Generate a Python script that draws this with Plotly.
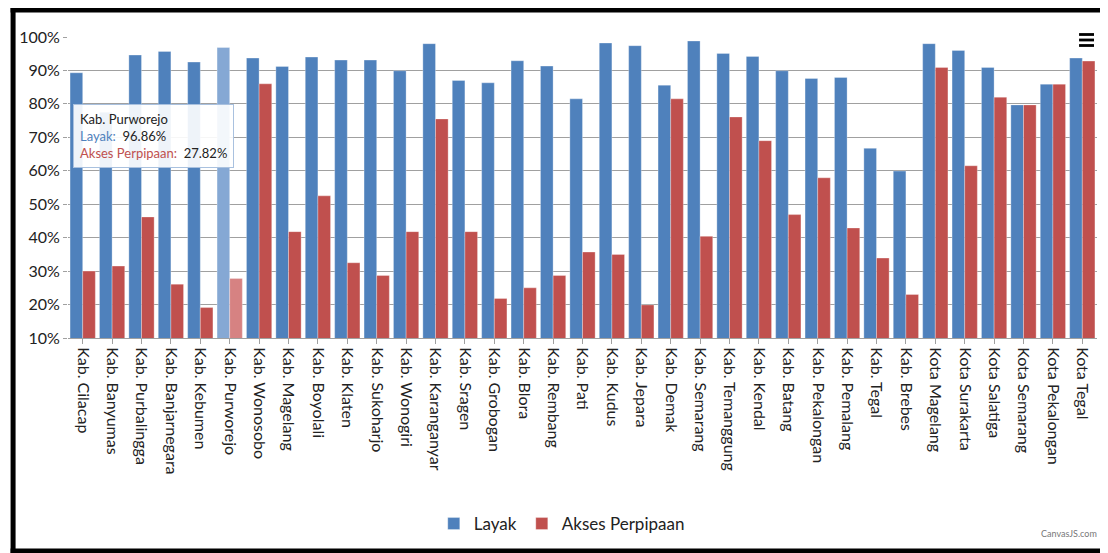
import plotly.graph_objects as go


categories = [
    "Kab. Cilacap", "Kab. Banyumas", "Kab. Purbalingga", "Kab. Banjarnegara",
    "Kab. Kebumen", "Kab. Purworejo", "Kab. Wonosobo", "Kab. Magelang",
    "Kab. Boyolali", "Kab. Klaten", "Kab. Sukoharjo", "Kab. Wonogiri",
    "Kab. Karanganyar", "Kab. Sragen", "Kab. Grobogan", "Kab. Blora",
    "Kab. Rembang", "Kab. Pati", "Kab. Kudus", "Kab. Jepara", "Kab. Demak",
    "Kab. Semarang", "Kab. Temanggung", "Kab. Kendal", "Kab. Batang",
    "Kab. Pekalongan", "Kab. Pemalang", "Kab. Tegal", "Kab. Brebes",
    "Kota Magelang", "Kota Surakarta", "Kota Salatiga", "Kota Semarang",
    "Kota Pekalongan", "Kota Tegal",
]

layak = [
    89.3, 77.5, 94.6, 95.7, 92.5, 96.86, 93.7, 91.2, 94.0, 93.1, 93.1, 89.9,
    98.0, 87.0, 86.3, 92.9, 91.3, 81.5, 98.2, 97.4, 85.6, 98.8, 95.1, 94.2,
    89.9, 87.6, 87.9, 66.7, 59.9, 98.0, 96.0, 90.9, 79.7, 85.9, 93.7,
]

akses_perpipaan = [
    30.0, 31.5, 46.2, 26.1, 19.1, 27.82, 86.0, 41.8, 52.5, 32.5, 28.7, 41.8,
    75.5, 41.8, 21.8, 25.0, 28.7, 35.7, 35.0, 19.9, 81.5, 40.4, 76.1, 69.0,
    46.9, 57.9, 42.9, 33.9, 23.0, 90.9, 61.5, 82.0, 79.7, 85.9, 92.8,
]

y_ticks = [10, 20, 30, 40, 50, 60, 70, 80, 90, 100]

highlight = "Kab. Purworejo"

BLUE = "#4F81BC"
RED = "#C0504E"
BLUE_HI = "#85A8D4"
RED_HI = "#D68282"
FONT = "Lato, 'Open Sans', sans-serif"

# page has an 8px body margin, so work in page pixels and shift
OFF = 8
W, H = 1100, 545
L, R, T, B = 64.6, 1097, 37, 338  # plot area in page pixels


# page pixel -> paper helpers
def px(x):
    return (x - L) / (R - L)


def py(y):
    return (B - y) / (B - T)


blue_colors = [BLUE_HI if c == highlight else BLUE for c in categories]
red_colors = [RED_HI if c == highlight else RED for c in categories]

fig = go.Figure()

fig.add_trace(
    go.Bar(
        x=categories,
        y=layak,
        name="Layak",
        marker=dict(color=blue_colors, line=dict(color="rgba(255,255,255,0.5)", width=0.6)),
    )
)

fig.add_trace(
    go.Bar(
        x=categories,
        y=akses_perpipaan,
        name="Akses Perpipaan",
        marker=dict(color=red_colors, line=dict(color="rgba(255,255,255,0.5)", width=0.6)),
    )
)

shapes = [
    # frame
    dict(type="line", xref="paper", yref="paper", x0=px(7), x1=px(1112), y0=py(10), y1=py(10),
         line=dict(color="black", width=5)),
    dict(type="line", xref="paper", yref="paper", x0=px(9.5), x1=px(9.5), y0=py(8), y1=py(556),
         line=dict(color="black", width=5)),
    dict(type="line", xref="paper", yref="paper", x0=px(7), x1=px(1112), y0=py(551), y1=py(551),
         line=dict(color="black", width=5)),
    # top gridline stops short of the menu button
    dict(type="line", xref="paper", yref="paper", x0=px(1068), x1=px(1099), y0=1, y1=1,
         line=dict(color="white", width=3)),
]

# hamburger menu
for yy in [34.5, 40, 45.5]:
    shapes.append(
        dict(type="line", xref="paper", yref="paper", x0=px(1079), x1=px(1094), y0=py(yy), y1=py(yy),
             line=dict(color="black", width=2.8))
    )

tooltip = (
    "Kab. Purworejo<br>"
    f"<span style='color:{BLUE}'>Layak:</span>\u00a0\u00a096.86%<br>"
    f"<span style='color:{RED}'>Akses Perpipaan:</span>\u00a0\u00a027.82%"
)

fig.update_layout(
    width=W,
    height=H,
    margin=dict(l=L - OFF, r=W + OFF - R, t=T - OFF, b=H + OFF - B),
    paper_bgcolor="white",
    plot_bgcolor="white",
    font=dict(family=FONT, size=16, color="#222"),
    barmode="group",
    bargap=0.14,
    bargroupgap=0,
    showlegend=True,
    legend=dict(
        orientation="h",
        x=px(560),
        xanchor="center",
        y=py(524),
        yanchor="middle",
        font=dict(family=FONT, size=17, color="#222"),
        itemwidth=30,
    ),
    xaxis=dict(
        tickangle=90,
        showgrid=False,
        showline=True,
        linecolor="#A0A0A0",
        linewidth=1,
        ticks="outside",
        ticklen=5,
        tickcolor="#A0A0A0",
        tickfont=dict(family=FONT, size=16, color="#222"),
    ),
    yaxis=dict(
        range=[10, 100],
        tickvals=y_ticks,
        ticktext=[f"{v}%" for v in y_ticks],
        showgrid=True,
        gridcolor="#A0A0A0",
        gridwidth=1,
        zeroline=False,
        showline=False,
        ticks="outside",
        ticklen=4,
        tickcolor="#A0A0A0",
        tickfont=dict(family=FONT, size=16, color="#222"),
    ),
    shapes=shapes,
    annotations=[
        dict(
            text=tooltip,
            xref="paper", yref="paper",
            x=px(70), y=py(104),
            xanchor="left", yanchor="top",
            align="left",
            showarrow=False,
            font=dict(family=FONT, size=13, color="#222"),
            bgcolor="rgba(255,255,255,0.9)",
            bordercolor="#A9C1DF",
            borderwidth=1,
            borderpad=6,
        ),
        dict(
            text="CanvasJS.com",
            xref="paper", yref="paper",
            x=px(1099), y=py(533),
            xanchor="right", yanchor="middle",
            showarrow=False,
            font=dict(family=FONT, size=9, color="#777"),
        ),
    ],
)

fig.write_html("out.html")
